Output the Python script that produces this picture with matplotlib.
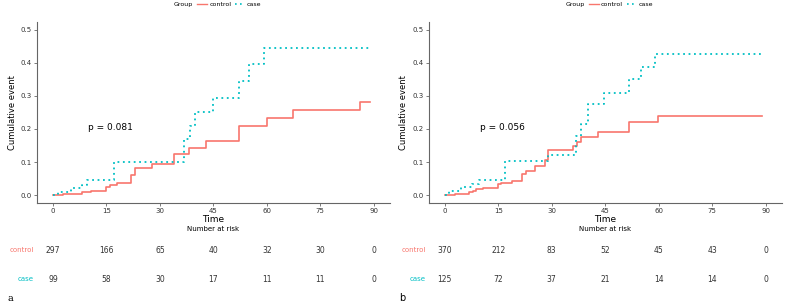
import numpy as np
import matplotlib
matplotlib.use('Agg')
import matplotlib.pyplot as plt
from matplotlib.lines import Line2D
from matplotlib.transforms import blended_transform_factory

# panel a
a_ctrl_t = [0, 2.8, 8, 10.8, 14.8, 15.9, 18, 21.8, 22.9, 27.9, 33.9, 38.1, 43, 52.1, 60, 67.2, 86, 89]
a_ctrl_y = [0, 0.003, 0.008, 0.013, 0.024, 0.03, 0.037, 0.062, 0.081, 0.093, 0.124, 0.143, 0.164, 0.209, 0.233, 0.257, 0.282, 0.282]
a_case_t = [0, 1.4, 5.1, 8, 9.5, 17, 36.8, 38.5, 39.8, 44.9, 52.1, 55, 59.1, 89]
a_case_y = [0, 0.01, 0.02, 0.03, 0.045, 0.1, 0.17, 0.21, 0.25, 0.295, 0.345, 0.395, 0.445, 0.445]
a_risk_ctrl = [297, 166, 65, 40, 32, 30, 0]
a_risk_case = [99, 58, 30, 17, 11, 11, 0]
a_p = "p = 0.081"

# panel b
b_ctrl_t = [0, 2.8, 6.8, 7.9, 8.9, 10.7, 14.9, 15.9, 18.8, 21.7, 22.9, 25.2, 28, 28.9, 35.9, 37.1, 38.1, 42.9, 51.8, 59.9, 88.9]
b_ctrl_y = [0, 0.003, 0.008, 0.013, 0.018, 0.02, 0.033, 0.038, 0.043, 0.063, 0.072, 0.087, 0.105, 0.136, 0.148, 0.162, 0.175, 0.191, 0.222, 0.24, 0.24]
b_case_t = [0, 1.2, 4.7, 7.7, 9.6, 16.8, 28.9, 36.8, 38.2, 40.1, 44.8, 51.8, 55, 59, 88.9]
b_case_y = [0, 0.013, 0.023, 0.033, 0.045, 0.102, 0.122, 0.18, 0.215, 0.275, 0.31, 0.35, 0.388, 0.428, 0.428]
b_risk_ctrl = [370, 212, 83, 52, 45, 43, 0]
b_risk_case = [125, 72, 37, 21, 14, 14, 0]
b_p = "p = 0.056"

risk_times = [0, 15, 30, 45, 60, 75, 90]
groups = ['control', 'case']
colors = ['#F8766D', '#00BFC4']

fig = plt.figure(figsize=(7.86, 3.06), dpi=100)


def draw_panel(left, ct, cy, kt, ky, rc, rk, ptext, tag, tagfont):
    ax = fig.add_axes([left, 0.3366, 0.449, 0.592])
    ax.step(ct, cy, where='post', color=colors[0], lw=1.2)
    ax.step(kt, ky, where='post', color=colors[1], lw=1.3, linestyle=(0, (1, 2)))
    ax.set_xlim(-4.5, 94.5)
    ax.set_ylim(-0.024, 0.524)
    ax.set_xticks(risk_times)
    ax.set_yticks([0, 0.1, 0.2, 0.3, 0.4, 0.5])
    ax.set_yticklabels(['0.0', '0.1', '0.2', '0.3', '0.4', '0.5'])
    for s in ['top', 'right']:
        ax.spines[s].set_visible(False)
    for s in ['left', 'bottom']:
        ax.spines[s].set_color('#666666')
        ax.spines[s].set_linewidth(0.8)
    ax.tick_params(labelsize=5, length=2, width=0.6, color='#666666',
                   labelcolor='#333333', pad=1.5)
    ax.set_xlabel('Time', fontsize=6.5, labelpad=0.5)
    ax.set_ylabel('Cumulative event', fontsize=6, labelpad=3)
    ax.text(9.8, 0.203, ptext, fontsize=6.5, va='center', ha='left')

    # legend
    handles = [Line2D([], [], color=colors[0], lw=1.0),
               Line2D([], [], color=colors[1], lw=1.2, linestyle=(0, (1, 2)))]
    ax.legend(handles, groups, loc='center', bbox_to_anchor=(0.545, 1.095),
              ncol=2, fontsize=4.5, frameon=False, handlelength=1.6,
              columnspacing=0.6, handletextpad=0.3, borderpad=0)
    ax.text(0.443, 1.095, 'Group', transform=ax.transAxes, fontsize=4.5,
            ha='right', va='center')

    # risk table
    tr = blended_transform_factory(ax.transData, fig.transFigure)
    ax.text(45, 0.252, 'Number at risk', transform=tr, fontsize=5,
            ha='center', va='center')
    for row_y, g, col, vals in [(0.183, groups[0], colors[0], rc),
                                (0.088, groups[1], colors[1], rk)]:
        ax.text(-5.3, row_y, g, transform=tr, fontsize=5, color=col,
                ha='right', va='center')
        for t, v in zip(risk_times, vals):
            ax.text(t, row_y, str(v), transform=tr, fontsize=5.5,
                    color='#333333', ha='center', va='center')
    fig.text(left - 0.038, 0.025, tag, fontsize=7, family=tagfont,
             ha='left', va='center')
    return ax


draw_panel(0.047, a_ctrl_t, a_ctrl_y, a_case_t, a_case_y,
           a_risk_ctrl, a_risk_case, a_p, 'a', 'DejaVu Serif')
draw_panel(0.5454, b_ctrl_t, b_ctrl_y, b_case_t, b_case_y,
           b_risk_ctrl, b_risk_case, b_p, 'b', 'DejaVu Sans')

fig.savefig('out.png', dpi=100)
